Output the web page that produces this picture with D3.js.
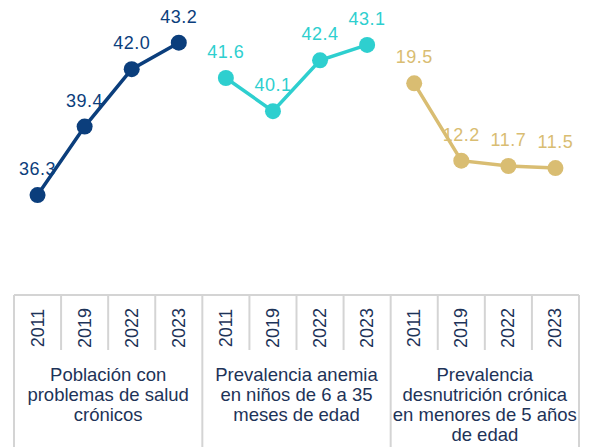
<!DOCTYPE html>
<html>
<head>
<meta charset="utf-8">
<script src="https://cdn.jsdelivr.net/npm/d3@7"></script>
<style>
  body { margin: 0; background: #fff; }
  svg text { font-family: "Liberation Sans", Arial, sans-serif; }
</style>
</head>
<body>
<script>
// data
var years = ['2011', '2019', '2022', '2023'];
var groups = ['salud', 'anemia', 'desnutricion'];
var groupLabels = [
  ['Población con', 'problemas de salud', 'crónicos'],
  ['Prevalencia anemia', 'en niños de 6 a 35', 'meses de edad'],
  ['Prevalencia', 'desnutrición crónica', 'en menores de 5 años', 'de edad']
];
var saludValues = [36.3, 39.4, 42.0, 43.2];
var anemiaValues = [41.6, 40.1, 42.4, 43.1];
var desnutricionValues = [19.5, 12.2, 11.7, 11.5];
var colors = ['#0b3e7c', '#2ecfcf', '#d9bd72'];

var W = 594, H = 447;
var left = 14, right = 579, axisTop = 295;

var svg = d3.select('body').append('svg')
  .attr('width', W).attr('height', H);

// one band per (group, year)
var keys = [];
groups.forEach(function(g) { years.forEach(function(y) { keys.push(g + '|' + y); }); });

var x = d3.scaleBand().domain(keys).range([left, right]).padding(0);
var xGroup = d3.scaleBand().domain(groups).range([left, right]).padding(0);

var yMain = d3.scaleLinear().domain([32, 44]).range([290, 25]);
var ySec = d3.scaleLinear().domain([0, 25]).range([290, 25]);

var series = [
  { g: 'salud', values: saludValues, y: yMain, color: colors[0] },
  { g: 'anemia', values: anemiaValues, y: yMain, color: colors[1] },
  { g: 'desnutricion', values: desnutricionValues, y: ySec, color: colors[2] }
];

// category axis box
var axisG = svg.append('g');
var lineColor = '#d4d4d4';

axisG.append('line')
  .attr('x1', left).attr('x2', right)
  .attr('y1', axisTop).attr('y2', axisTop)
  .attr('stroke', lineColor).attr('stroke-width', 2);

// group dividers (full height)
var groupEdges = groups.map(function(g) { return xGroup(g); }).concat([right]);
axisG.selectAll('line.gdiv').data(groupEdges).enter().append('line')
  .attr('class', 'gdiv')
  .attr('x1', d => d).attr('x2', d => d)
  .attr('y1', axisTop).attr('y2', H)
  .attr('stroke', lineColor).attr('stroke-width', 2);

// year dividers (short)
var yearEdges = keys.filter(k => k.split('|')[1] !== years[0]).map(k => x(k));
axisG.selectAll('line.ydiv').data(yearEdges).enter().append('line')
  .attr('class', 'ydiv')
  .attr('x1', d => d).attr('x2', d => d)
  .attr('y1', axisTop).attr('y2', 350)
  .attr('stroke', lineColor).attr('stroke-width', 2);

// year labels rotated
axisG.selectAll('text.year').data(keys).enter().append('text')
  .attr('class', 'year')
  .attr('transform', d => 'translate(' + (x(d) + x.bandwidth() / 2) + ',328) rotate(-90)')
  .attr('text-anchor', 'middle')
  .attr('dominant-baseline', 'central')
  .attr('font-size', 18)
  .attr('fill', '#1d3358')
  .text(d => d.split('|')[1]);

// group labels
groups.forEach(function(g, i) {
  var t = axisG.append('text')
    .attr('text-anchor', 'middle')
    .attr('font-size', 18.5)
    .attr('fill', '#1d3358');
  groupLabels[i].forEach(function(line, j) {
    t.append('tspan')
      .attr('x', xGroup(g) + xGroup.bandwidth() / 2)
      .attr('y', 381 + j * 20)
      .text(line);
  });
});

// lines, markers, labels
var line = d3.line()
  .x(d => d.x).y(d => d.y);

series.forEach(function(s) {
  var pts = s.values.map(function(v, i) {
    return { x: x(s.g + '|' + years[i]) + x.bandwidth() / 2, y: s.y(v), v: v };
  });
  var g = svg.append('g');
  g.append('path')
    .datum(pts)
    .attr('d', line)
    .attr('fill', 'none')
    .attr('stroke', s.color)
    .attr('stroke-width', 3.5);
  g.selectAll('circle').data(pts).enter().append('circle')
    .attr('cx', d => d.x).attr('cy', d => d.y)
    .attr('r', 8)
    .attr('fill', s.color);
  g.selectAll('text').data(pts).enter().append('text')
    .attr('x', d => d.x).attr('y', d => d.y - 20)
    .attr('text-anchor', 'middle')
    .attr('font-size', 18)
    .attr('letter-spacing', 0.5)
    .attr('fill', s.color)
    .text(d => d.v.toFixed(1));
});
</script>
</body>
</html>
